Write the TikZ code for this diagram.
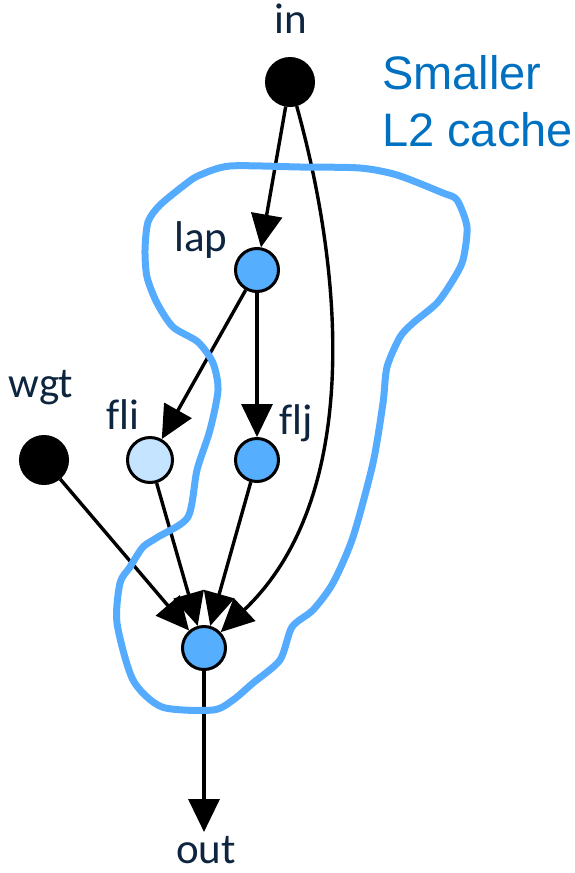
\documentclass[tikz,border=0pt]{standalone}
\usepackage{fontspec}
\setmainfont[Ligatures=NoCommon]{Carlito}
\newfontfamily\notefont{Liberation Sans}
\usetikzlibrary{arrows.meta}

\definecolor{opblue}{RGB}{86,174,255}
\definecolor{oplight}{RGB}{197,228,255}
\definecolor{blobblue}{RGB}{85,172,255}
\definecolor{labelink}{RGB}{13,37,63}
\definecolor{noteblue}{RGB}{0,112,192}

\begin{document}
\begin{tikzpicture}[
  x={(1pt,0)}, y={(0,-1pt)},
  srcnode/.style={circle, draw=black, fill=black, line width=1pt,
                  inner sep=0pt, minimum size=49pt},
  opnode/.style={circle, draw=black, fill=opblue, line width=3pt,
                 inner sep=0pt, minimum size=43pt},
  lightnode/.style={opnode, fill=oplight, minimum size=45pt},
  lbl/.style={anchor=base, inner sep=0pt, text=labelink,
              font=\fontsize{43}{46}\selectfont},
  edge/.style={draw=black, line width=3.4pt,
               -{Triangle[length=33pt,width=31pt]}},
  blob/.style={draw=blobblue, line width=7pt, line join=round}
]
\useasboundingbox (0,0) rectangle (574,873);

%--------------------------------------------------------------
% Nodi del grafo
%--------------------------------------------------------------
\node[srcnode] (in)  at (290,82)  {};
\node[srcnode] (wgt) at (44,460)  {};
\node[opnode]    (lap)  at (257,270) {};
\node[lightnode] (fli)  at (150,460) {};
\node[opnode]    (flj)  at (257,460) {};
\node[opnode]    (sink) at (204,648) {};
\coordinate (outend) at (204,832);

%--------------------------------------------------------------
% Etichette
%--------------------------------------------------------------
\node[lbl] (inlbl)  at (291,33)  {in};
\node[lbl] (laplbl) at (201,251) {lap};
\node[lbl] (wgtlbl) at (41,397)  {wgt};
\node[lbl] (flilbl) at (123,429) {fli};
\node[lbl] (fljlbl) at (296,434) {flj};
\node[lbl] (outlbl) at (206,863) {out};

\node[anchor=base west, inner sep=0pt, text=noteblue, align=left,
      font=\notefont\fontsize{47}{57}\selectfont] (nota) at (382,146)
  {Smaller\\L2 cache};

%--------------------------------------------------------------
% Archi
%--------------------------------------------------------------
\draw[edge] (in) -- (lap);
\draw[edge] (in) .. controls (345,280) and (360,500) .. (sink);
\draw[edge] (lap) -- (fli);
\draw[edge] (lap) -- (flj);
\draw[edge] (wgt) -- (sink);
\draw[edge] (fli) -- (sink);
\draw[edge] (flj) -- (sink);
\draw[edge] (sink) -- (outend);

%--------------------------------------------------------------
% Contorno a mano libera
%--------------------------------------------------------------
\draw[blob] plot[smooth cycle, tension=0.45] coordinates {
  (230,166) (300,167) (360,168) (397,175) (443,193) (457,200)
  (467,227) (463,260) (453,280) (437,303) (413,323) (400,337)
  (387,367) (383,403) (373,463) (353,537) (333,583) (313,610)
  (292,627) (280,660) (253,683) (233,700) (213,710) (162,707)
  (133,680) (117,623) (120,583) (130,567) (143,547) (158,537)
  (188,517) (197,470) (210,430) (218,390) (213,363) (198,342)
  (173,327) (157,303) (147,277) (145,250) (148,222) (160,205)
  (187,183) (200,175)};

\end{tikzpicture}
\end{document}
